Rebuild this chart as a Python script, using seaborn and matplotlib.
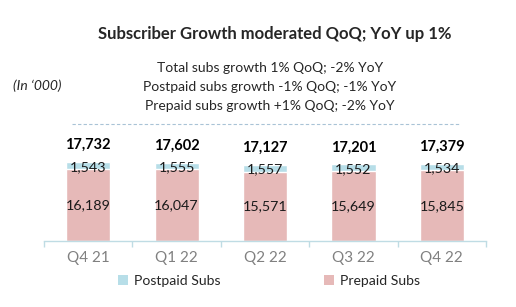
import matplotlib
matplotlib.use("Agg")
import matplotlib.pyplot as plt
import seaborn as sns
import pandas as pd
from matplotlib.patches import Patch
from matplotlib.lines import Line2D

quarters = ["Q4 21", "Q1 22", "Q2 22", "Q3 22", "Q4 22"]
postpaid = [1543, 1555, 1557, 1552, 1534]
prepaid = [16189, 16047, 15571, 15649, 15845]
totals = [17732, 17602, 17127, 17201, 17379]

title = "Subscriber Growth moderated QoQ; YoY up 1%"
subtitles = ["Total subs growth 1% QoQ; -2% YoY",
             "Postpaid subs growth -1% QoQ; -1% YoY",
             "Prepaid subs growth +1% QoQ; -2% YoY"]
unit_note = "(In \u2018000)"

BLUE = "#B7DEE8"
PINK = "#E6B9B8"
FONT = "Lato"

sns.set_theme(style="white")
plt.rcParams["font.family"] = [FONT, "DejaVu Sans"]

df = pd.DataFrame({"quarter": quarters, "postpaid": postpaid, "prepaid": prepaid})
df["stack"] = df["prepaid"] + df["postpaid"]

W, H = 516, 307
fig = plt.figure(figsize=(W / 100, H / 100), dpi=100)
ax = fig.add_axes([44 / W, (H - 241) / H, 442 / W, 111 / H])

sns.barplot(data=df, x="quarter", y="stack", color=BLUE, saturation=1, width=0.5, ax=ax)
sns.barplot(data=df, x="quarter", y="prepaid", color=PINK, saturation=1, width=0.5, ax=ax)

ax.set_ylim(0, 24900)
ax.set_xlim(-0.5, 4.5)
for s in ["top", "right", "left"]:
    ax.spines[s].set_visible(False)
ax.spines["bottom"].set_color("#BFDCE4")
ax.spines["bottom"].set_linewidth(1.0)
ax.set_yticks([])
ax.set_xlabel("")
ax.set_ylabel("")
ax.set_xticks(range(len(quarters)))
ax.set_xticklabels(quarters, color="#808080", fontsize=11)
ax.tick_params(axis="x", which="major", length=0, pad=7)
ax.set_xticks([i - 0.5 for i in range(len(quarters) + 1)], minor=True)
ax.tick_params(axis="x", which="minor", length=4, color="#BFDCE4", width=1, bottom=True)

for i in range(len(quarters)):
    ax.annotate(f"{totals[i]:,}", (i, df["stack"][i]), xytext=(0, 12), textcoords="offset points",
                ha="center", va="center", fontsize=10.5, fontweight="bold", color="black")
    ax.annotate(f"{postpaid[i]:,}", (i, prepaid[i] + postpaid[i] / 2), xytext=(0, -1),
                textcoords="offset points", ha="center", va="center", fontsize=10.3, color="#1a1a1a")
    ax.text(i, prepaid[i] / 2, f"{prepaid[i]:,}", ha="center", va="center", fontsize=10.3, color="#1a1a1a")

fig.text(275 / W, 1 - 34 / H, title, ha="center", va="center", fontsize=12, fontweight="bold")
for k, (s, y) in enumerate(zip(subtitles, [68, 87, 106])):
    fig.text(270 / W, 1 - y / H, s, ha="center", va="center", fontsize=10)
fig.text(13 / W, 1 - 86 / H, unit_note, ha="left", va="center", fontsize=10, style="italic")

fig.add_artist(Line2D([72 / W, 460 / W], [1 - 124 / H, 1 - 124 / H], transform=fig.transFigure,
                      color="#A9C3D6", lw=0.8, ls=(0, (3, 2))))

handles = [Patch(facecolor=BLUE, edgecolor="none", label="Postpaid Subs"),
           Patch(facecolor=PINK, edgecolor="none", label="Prepaid Subs")]
fig.legend(handles=handles, loc="center", bbox_to_anchor=(269 / W, 1 - 281 / H), ncol=2,
           frameon=False, fontsize=10.1, handlelength=0.7, handleheight=0.7,
           handletextpad=0.4, columnspacing=7.4)

fig.savefig("out.png", dpi=100)
